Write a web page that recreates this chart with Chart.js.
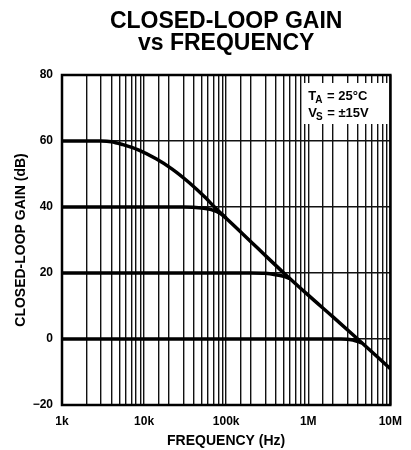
<!DOCTYPE html>
<html>
<head>
<meta charset="utf-8">
<script src="https://cdn.jsdelivr.net/npm/chart.js@4/dist/chart.umd.min.js"></script>
<style>
  html, body { margin: 0; padding: 0; background: #fff; }
  #wrap { width: 411px; height: 450px; }
</style>
</head>
<body>
<div id="wrap"><canvas id="gainChart" width="411" height="450"></canvas></div>
<script>
// values
const freq60 = [1000, 2000, 3000, 4000, 5500, 8500, 14000, 22000, 35000, 55000, 72000, 100000, 200000, 300000, 500000, 1000000, 2000000, 4000000, 10000000];
const gain60 = [60, 60, 60, 59.8, 58.9, 57.3, 54.6, 51.5, 47.5, 43, 40, 36.6, 29.5, 25.3, 20.1, 13.3, 6.7, 0, -9];

const freq40 = [1000, 30000, 50000, 70000, 85000, 100000];
const gain40 = [40, 40, 39.7, 39, 38, 36.6];

const freq20 = [1000, 200000, 300000, 400000, 500000, 600000];
const gain20 = [20, 20, 19.9, 19.5, 19, 18.3];

const freq0 = [1000, 2500000, 3500000, 4500000];
const gain0 = [0, 0, -0.3, -1.2];

const xTickValues = [1000, 10000, 100000, 1000000, 10000000];
const xTickLabels = ['1k', '10k', '100k', '1M', '10M'];
const yTickValues = [-20, 0, 20, 40, 60, 80];
const yTickLabels = ['\u221220', '0', '20', '40', '60', '80'];

const titleLines = ['CLOSED-LOOP GAIN', 'vs FREQUENCY'];

const FONT = '"Liberation Sans", Arial, Helvetica, sans-serif';

function toPoints(xs, ys) {
  return xs.map((x, i) => ({ x, y: ys[i] }));
}

function curve(xs, ys) {
  return {
    data: toPoints(xs, ys),
    borderColor: '#000',
    borderWidth: 3.5,
    pointRadius: 0,
    fill: false,
    cubicInterpolationMode: 'monotone'
  };
}

// title centred over the plot, white note box, heavy frame
const decorPlugin = {
  id: 'decor',
  beforeDatasetsDraw(chart) {
    const { ctx, chartArea } = chart;
    ctx.save();
    ctx.fillStyle = '#fff';
    ctx.fillRect(chartArea.right - 88, chartArea.top + 8, 86, 41);
    ctx.fillStyle = '#000';
    ctx.textBaseline = 'alphabetic';
    let x = chartArea.right - 82;
    let y = chartArea.top + 25;
    ctx.font = 'bold 13px ' + FONT;
    ctx.fillText('T', x, y);
    x += ctx.measureText('T').width;
    ctx.font = 'bold 10px ' + FONT;
    ctx.fillText('A', x - 1, y + 3);
    x += ctx.measureText('A').width;
    ctx.font = 'bold 13px ' + FONT;
    ctx.fillText(' = 25\u00B0C', x, y);
    x = chartArea.right - 82;
    y += 17;
    ctx.fillText('V', x, y);
    x += ctx.measureText('V').width;
    ctx.font = 'bold 10px ' + FONT;
    ctx.fillText('S', x - 1, y + 3);
    x += ctx.measureText('S').width;
    ctx.font = 'bold 13px ' + FONT;
    ctx.fillText(' = \u00B115V', x, y);
    ctx.restore();
  },
  afterDraw(chart) {
    const { ctx, chartArea } = chart;
    ctx.save();
    ctx.strokeStyle = '#000';
    ctx.lineWidth = 2.5;
    ctx.strokeRect(chartArea.left, chartArea.top, chartArea.right - chartArea.left, chartArea.bottom - chartArea.top);
    ctx.fillStyle = '#000';
    ctx.font = 'bold 23px ' + FONT;
    ctx.textAlign = 'center';
    ctx.textBaseline = 'alphabetic';
    const cx = (chartArea.left + chartArea.right) / 2;
    ctx.fillText(titleLines[0], cx, 28);
    ctx.fillText(titleLines[1], cx, 50);
    ctx.restore();
  }
};

const ctx = document.getElementById('gainChart').getContext('2d');
const gainChart = new Chart(ctx, {
  type: 'line',
  data: {
    datasets: [
      curve(freq60, gain60),
      curve(freq40, gain40),
      curve(freq20, gain20),
      curve(freq0, gain0)
    ]
  },
  options: {
    responsive: false,
    animation: false,
    layout: { padding: { left: 0, right: 16, top: 75, bottom: 0 } },
    plugins: {
      legend: { display: false },
      tooltip: { enabled: false },
      title: { display: false }
    },
    scales: {
      x: {
        type: 'logarithmic',
        min: 1000,
        max: 10000000,
        afterFit(scale) { scale.height = 45; },
        grid: { color: '#111', lineWidth: 1.4, drawTicks: false },
        border: { display: false },
        ticks: {
          autoSkip: false,
          maxRotation: 0,
          padding: 9,
          color: '#000',
          font: { family: FONT, size: 12, weight: 'bold' },
          callback(value) {
            const i = xTickValues.indexOf(value);
            return i >= 0 ? xTickLabels[i] : '';
          }
        },
        title: {
          display: true,
          text: 'FREQUENCY (Hz)',
          color: '#000',
          font: { family: FONT, size: 14, weight: 'bold' },
          padding: { top: 0, bottom: 0 }
        }
      },
      y: {
        type: 'linear',
        min: -20,
        max: 80,
        afterFit(scale) { scale.width = 62; },
        afterBuildTicks(scale) { scale.ticks = yTickValues.map(v => ({ value: v })); },
        grid: { color: '#111', lineWidth: 1.4, drawTicks: false },
        border: { display: false },
        ticks: {
          padding: 9,
          color: '#000',
          font: { family: FONT, size: 12, weight: 'bold' },
          callback(value) {
            const i = yTickValues.indexOf(value);
            return i >= 0 ? yTickLabels[i] : '';
          }
        },
        title: {
          display: true,
          text: 'CLOSED-LOOP GAIN (dB)',
          color: '#000',
          font: { family: FONT, size: 14, weight: 'bold' },
          padding: { top: 13, bottom: 0 }
        }
      }
    }
  },
  plugins: [decorPlugin]
});
</script>
</body>
</html>
